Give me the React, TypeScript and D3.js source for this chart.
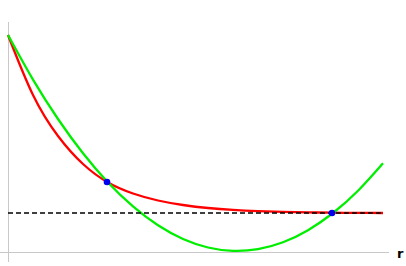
import React from "react";
import * as d3 from "d3";

// r grid of the sampled curves
const rValues = [0, 0.25, 0.5, 0.75, 1, 1.25, 1.5, 1.75, 2, 2.25, 2.5, 2.75, 3, 3.25, 3.5, 3.75];
// red curve (decays to the dashed level)
const redValues = [2.17, 1.57, 1.16, 0.88, 0.695, 0.585, 0.515, 0.47, 0.44, 0.421, 0.409, 0.401, 0.396, 0.393, 0.391, 0.39];
// green curve (parabola)
const greenValues = [2.17, 1.724, 1.33, 0.987, 0.695, 0.456, 0.267, 0.13, 0.045, 0.011, 0.028, 0.097, 0.218, 0.39, 0.613, 0.888];
// dashed asymptote level
const dashedLevel = 0.39;
const dashedRange = [0, 3.75];
// crossing points
const pointsR = [0.99, 3.24];
const pointsV = [0.70, 0.39];
const axisLabel = "r";

const width = 406;
const height = 266;

const App: React.FC = () => {
  const x = d3.scaleLinear().domain([0, 3.75]).range([8, 383]);
  const y = d3.scaleLinear().domain([0, 2.17]).range([252, 35]);

  const line = d3
    .line<[number, number]>()
    .x((d) => x(d[0]))
    .y((d) => y(d[1]))
    .curve(d3.curveNatural);

  const red = rValues.map((r, i) => [r, redValues[i]] as [number, number]);
  const green = rValues.map((r, i) => [r, greenValues[i]] as [number, number]);

  return (
    <svg
      width={width}
      height={height}
      style={{ position: "absolute", left: 0, top: 0, background: "#fff" }}
    >
      {/* axes */}
      <line x1={x(0) + 0.5} x2={x(0) + 0.5} y1={y(2.3)} y2={y(-0.1)} stroke="#c8c8c8" strokeWidth={1} />
      <line x1={x(-0.08)} x2={x(3.81)} y1={y(0) + 0.5} y2={y(0) + 0.5} stroke="#c8c8c8" strokeWidth={1} />
      <text x={397} y={258} fontFamily="DejaVu Sans, sans-serif" fontSize={13} fontWeight={600} fill="#000">
        {axisLabel}
      </text>

      <path d={line(red) ?? ""} fill="none" stroke="#ff0000" strokeWidth={2.3} />
      <path d={line(green) ?? ""} fill="none" stroke="#00ee00" strokeWidth={2.3} />
      <line
        x1={x(dashedRange[0])}
        x2={x(dashedRange[1])}
        y1={y(dashedLevel)}
        y2={y(dashedLevel)}
        stroke="#000"
        strokeWidth={1.5}
        strokeDasharray="5,3"
      />
      {pointsR.map((r, i) => (
        <circle key={i} cx={x(r)} cy={y(pointsV[i])} r={3.3} fill="#0000ee" />
      ))}
    </svg>
  );
};

export default App;
